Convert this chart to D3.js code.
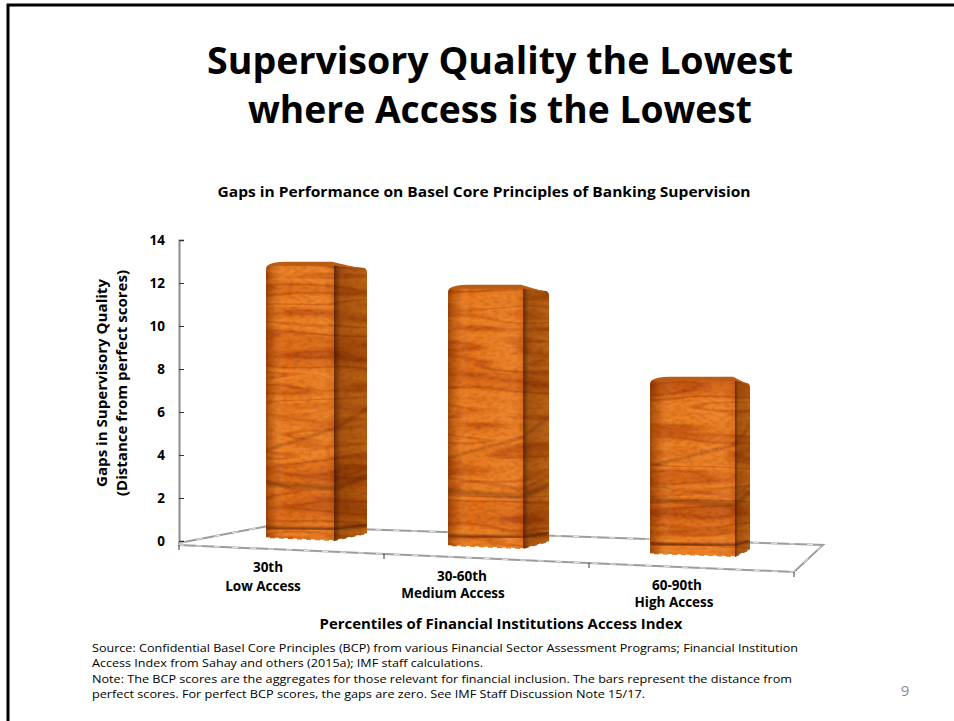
<!DOCTYPE html>
<html>
<head>
<meta charset="utf-8">
<script src="https://cdn.jsdelivr.net/npm/d3@7"></script>
<style>
  html, body { margin: 0; padding: 0; background: #fff; }
  svg { display: block; }
  text { font-family: "Open Sans", "Noto Sans", sans-serif; fill: #000; }
  .bold { font-weight: 700; }
</style>
</head>
<body>
<script>
// chart values
var categoriesTop = ["30th", "30-60th", "60-90th"];
var categoriesBottom = ["Low Access", "Medium Access", "High Access"];
var gaps = [12.8, 12.1, 8.2];
var yTicks = [0, 2, 4, 6, 8, 10, 12, 14];
var titleLines = ["Supervisory Quality the Lowest", "where Access is the Lowest"];
var yTitleLines = ["Gaps in Supervisory Quality", "(Distance from perfect scores)"];
var noteLines = [
  "Source: Confidential Basel Core Principles (BCP) from various Financial Sector Assessment Programs; Financial Institution",
  "Access Index from Sahay and others (2015a); IMF staff calculations.",
  "Note: The BCP scores are the aggregates for those relevant for financial inclusion. The bars represent the distance from",
  "perfect scores. For perfect BCP scores, the gaps are zero. See IMF Staff Discussion Note 15/17."
];

var width = 954, height = 721;

var svg = d3.select("body").append("svg")
    .attr("width", width)
    .attr("height", height);

var defs = svg.append("defs");

// slide frame
svg.append("path")
    .attr("d", "M8,721V5H954")
    .attr("fill", "none")
    .attr("stroke", "#000")
    .attr("stroke-width", 3);

// helper for a text line squeezed to a measured width
function line(str, x, y, size, len, cls, anchor) {
  return svg.append("text")
      .attr("class", cls || null)
      .attr("x", x)
      .attr("y", y)
      .attr("font-size", size)
      .attr("text-anchor", anchor || "middle")
      .attr("textLength", len)
      .attr("lengthAdjust", "spacingAndGlyphs")
      .text(str);
}

line(titleLines[0], 500, 74, 37, 586, "bold");
line(titleLines[1], 500, 123, 37, 504, "bold");
line("Gaps in Performance on Basel Core Principles of Banking Supervision", 484, 197, 14.5, 533, "bold");

// scales
var y = d3.scaleLinear().domain([0, 14]).range([541, 240]);
var idx = [0, 1, 2];

// the bars sit on a skewed floor, so their corners run along these projections
var frontLeft = d3.scaleLinear().domain(idx).range([266, 448, 650]);
var frontRight = d3.scaleLinear().domain(idx).range([334, 523, 735]);
var sideRight = d3.scaleLinear().domain(idx).range([367, 549, 750]);
var baseY = d3.scaleLinear().domain(idx).range([540, 548, 556]);

// floor
var floorPts = [[179, 543], [268, 526], [823, 545], [794, 572], [179, 545]];
svg.append("path")
    .attr("d", d3.line()(floorPts) + "Z")
    .attr("fill", "none")
    .attr("stroke", "#9c9c9c")
    .attr("stroke-width", 2);
svg.append("path")
    .attr("d", d3.line()(floorPts) + "Z")
    .attr("fill", "none")
    .attr("stroke", "#e8e8e8")
    .attr("stroke-width", 1)
    .attr("stroke-dasharray", "6 12");

// floor ticks
var floorTicks = d3.scaleLinear().domain([0, 3]).range([179, 794]);
[0, 1, 2, 3].forEach(function(i) {
  var tx = floorTicks(i);
  var ty = 545 + (tx - 179) * 27 / 615;
  svg.append("line")
      .attr("x1", tx).attr("x2", tx)
      .attr("y1", ty).attr("y2", ty + 5)
      .attr("stroke", "#333");
});

// y axis
var axis = svg.append("g")
    .attr("transform", "translate(179,0)")
    .call(d3.axisRight(y).tickValues(yTicks).tickSize(5).tickFormat(""));
axis.select(".domain").attr("stroke", "#8c8c8c").attr("stroke-width", 2);
axis.selectAll(".tick line").attr("stroke", "#333");

svg.selectAll(".ylab")
    .data(yTicks)
  .enter().append("text")
    .attr("class", "ylab bold")
    .attr("x", 165)
    .attr("y", function(d) { return y(d) + 5; })
    .attr("text-anchor", "end")
    .attr("font-size", 13.5)
    .text(function(d) { return d; });

// y title
yTitleLines.forEach(function(t, i) {
  svg.append("text")
      .attr("class", "bold")
      .attr("transform", "translate(" + (107 + i * 20) + ",383) rotate(-90)")
      .attr("text-anchor", "middle")
      .attr("font-size", 13.5)
      .attr("textLength", i ? 226 : 208)
      .attr("lengthAdjust", "spacingAndGlyphs")
      .text(t);
});

// wood grain: stretched noise through a colour table, multiplied by a fine speckle
var wood = defs.append("filter")
    .attr("id", "wood")
    .attr("x", "0").attr("y", "0").attr("width", "1").attr("height", "1")
    .attr("color-interpolation-filters", "sRGB");
wood.append("feTurbulence")
    .attr("type", "fractalNoise")
    .attr("baseFrequency", "0.004 0.03")
    .attr("numOctaves", 3)
    .attr("seed", 23)
    .attr("result", "noise");
wood.append("feColorMatrix")
    .attr("in", "noise")
    .attr("type", "matrix")
    .attr("values", "1 0 0 0 0 1 0 0 0 0 1 0 0 0 0 0 0 0 0 1")
    .attr("result", "grey");
var ct = wood.append("feComponentTransfer").attr("in", "grey").attr("result", "col");
ct.append("feFuncR").attr("type", "table")
    .attr("tableValues", "0.74 0.74 0.76 0.78 0.80 0.72 0.84 0.87 0.89 0.78 0.91 0.93 0.94 0.84 0.94 0.92 0.88 0.78 0.86 0.82 0.78 0.74");
ct.append("feFuncG").attr("type", "table")
    .attr("tableValues", "0.31 0.31 0.33 0.34 0.35 0.28 0.38 0.41 0.43 0.33 0.46 0.48 0.50 0.38 0.50 0.47 0.42 0.33 0.40 0.36 0.34 0.31");
ct.append("feFuncB").attr("type", "table")
    .attr("tableValues", "0.04 0.04 0.04 0.05 0.05 0.03 0.06 0.07 0.08 0.04 0.09 0.11 0.13 0.06 0.12 0.10 0.08 0.04 0.07 0.05 0.04 0.04");
wood.append("feTurbulence")
    .attr("type", "fractalNoise")
    .attr("baseFrequency", "0.16 0.3")
    .attr("numOctaves", 2)
    .attr("seed", 5)
    .attr("result", "fine");
wood.append("feColorMatrix")
    .attr("in", "fine")
    .attr("type", "matrix")
    .attr("values", "0.3 0 0 0 0.82 0.3 0 0 0 0.82 0.3 0 0 0 0.82 0 0 0 0 1")
    .attr("result", "speckle");
wood.append("feBlend")
    .attr("in", "col")
    .attr("in2", "speckle")
    .attr("mode", "multiply")
    .attr("result", "grain");
wood.append("feComposite").attr("in", "grain").attr("in2", "SourceAlpha").attr("operator", "in");

// soft edge used for the lower knot bands
var soft = defs.append("filter").attr("id", "soft");
soft.append("feGaussianBlur").attr("stdDeviation", 1.1);

// horizontal shading of the two visible faces
var frontShade = defs.append("linearGradient").attr("id", "frontShade");
[[0, "#5a1e00", 0.5], [0.1, "#7a3000", 0.22], [0.28, "#fff", 0.02], [0.85, "#fff", 0.06], [1, "#7a3000", 0.1]]
  .forEach(function(s) {
    frontShade.append("stop").attr("offset", s[0]).attr("stop-color", s[1]).attr("stop-opacity", s[2]);
  });
var sideShade = defs.append("linearGradient").attr("id", "sideShade");
[[0, "#2a0c00", 0.68], [0.22, "#4a2000", 0.42], [1, "#4a2400", 0.3]]
  .forEach(function(s) {
    sideShade.append("stop").attr("offset", s[0]).attr("stop-color", s[1]).attr("stop-opacity", s[2]);
  });

// corner radius of the bevelled tops
var r = 5;

// grain lines near the foot: height above base at left, front edge and far corner,
// then stroke width and opacity
var footBands = [
  [10, 12, 9, 2.5, 0.75],
  [55, 52, 58, 5, 0.32],
  [68, 60, 66, 1.5, 0.3],
  [88, 112, 125, 2, 0.35]
];

var bandLine = d3.line().curve(d3.curveMonotoneX);

gaps.forEach(function(v, i) {
  var h = y(0) - y(v);
  var x0 = frontLeft(i), x1 = frontRight(i), x2 = sideRight(i);
  var b0 = baseY(i) - 2, b1 = baseY(i) + 1;   // front face base, left and right
  var b2 = baseY(i) - 6;                      // far corner of the side face
  var t0 = baseY(i) - h, t2 = t0 + 3;

  var g = svg.append("g").attr("class", "bar");

  var frontPath = "M" + x0 + "," + b0 + "V" + (t0 + r) + "Q" + x0 + "," + t0 + " " + (x0 + r) + "," + t0 +
      "H" + x1 + "V" + b1 + "Z";
  var sidePath = "M" + x1 + "," + t0 + "L" + (x2 - r) + "," + t2 + "Q" + x2 + "," + t2 + " " + x2 + "," + (t2 + r) +
      "V" + b2 + "L" + x1 + "," + b1 + "Z";
  var lidPath = "M" + (x0 + 1) + "," + (t0 + 1) + "Q" + (x0 + 6) + "," + (t0 - 3) + " " + (x0 + 20) + "," + (t0 - 3) +
      "L" + (x1 - 2) + "," + (t0 - 3) + "L" + (x2 - 1) + "," + (t2 + 2) + "L" + x1 + "," + (t0 + 1) + "Z";

  g.append("path").attr("d", frontPath).attr("filter", "url(#wood)").attr("fill", "#000");
  g.append("path").attr("d", frontPath).attr("fill", "url(#frontShade)");
  g.append("path").attr("d", sidePath).attr("filter", "url(#wood)").attr("fill", "#000");
  g.append("path").attr("d", sidePath).attr("fill", "url(#sideShade)");
  g.append("path").attr("d", lidPath).attr("fill", "#b85c16");

  // darker rings running round the foot of the bar
  var clipId = "clip" + i;
  defs.append("clipPath").attr("id", clipId).append("path").attr("d", frontPath + sidePath);
  var bands = g.append("g").attr("clip-path", "url(#" + clipId + ")");
  footBands.forEach(function(b) {
    bands.append("path")
        .attr("d", bandLine([[x0, b0 - b[0]], [x1, b1 - b[1]]]) + bandLine([[x1, b1 - b[1]], [x2, b2 - b[2]]]))
        .attr("fill", "none")
        .attr("stroke", "#4a1800")
        .attr("stroke-opacity", b[4])
        .attr("stroke-width", b[3])
        .attr("filter", "url(#soft)");
  });

  // white nibbles along the bottom edge
  g.append("path")
      .attr("d", d3.line()([[x0, b0], [x1, b1], [x2, b2]]))
      .attr("fill", "none")
      .attr("stroke", "#fff")
      .attr("stroke-width", 1.5)
      .attr("stroke-dasharray", "4 5");
});

// category labels
var topX = d3.scaleLinear().domain(idx).range([268, 462, 677]);
var topY = d3.scaleLinear().domain(idx).range([572, 581, 590]);
var botX = d3.scaleLinear().domain(idx).range([263, 453, 674]);
var botY = d3.scaleLinear().domain(idx).range([591, 598, 607]);
categoriesTop.forEach(function(c, i) {
  svg.append("text").attr("class", "bold")
      .attr("x", topX(i)).attr("y", topY(i))
      .attr("text-anchor", "middle").attr("font-size", 13.5)
      .text(c);
  svg.append("text").attr("class", "bold")
      .attr("x", botX(i)).attr("y", botY(i))
      .attr("text-anchor", "middle").attr("font-size", 13.5)
      .text(categoriesBottom[i]);
});

line("Percentiles of Financial Institutions Access Index", 501, 629, 14.5, 363, "bold");

// notes under the chart
var noteWidths = [706, 391, 700, 553];
var noteY = [652, 667, 683, 698];
noteLines.forEach(function(t, i) {
  line(t, 92, noteY[i], 11.5, noteWidths[i], null, "start");
});

// slide number
svg.append("text")
    .attr("x", 905).attr("y", 696)
    .attr("text-anchor", "middle")
    .attr("font-size", 15)
    .style("fill", "#8a8a8a")
    .text("9");
</script>
</body>
</html>
